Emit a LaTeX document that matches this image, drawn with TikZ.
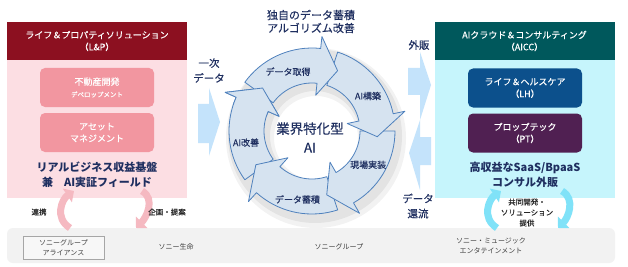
\documentclass[tikz,border=0pt]{standalone}
\usepackage{fontspec}
\setmainfont{Noto Sans CJK JP}
\newfontfamily\medfont{Noto Sans CJK JP}[FakeBold=0.35]
\usetikzlibrary{arrows.meta}
\newcommand{\fsz}[2]{\fontsize{#1}{#2}\selectfont}
\definecolor{lpcrimson}{RGB}{140,16,32}
\definecolor{lpblush}{RGB}{252,222,227}
\definecolor{lprose}{RGB}{242,150,160}
\definecolor{lparrow}{RGB}{245,185,193}
\definecolor{aiteal}{RGB}{0,88,92}
\definecolor{aiice}{RGB}{198,245,252}
\definecolor{lhblue}{RGB}{12,80,140}
\definecolor{ptplum}{RGB}{80,32,82}
\definecolor{aiarrow}{RGB}{128,226,248}
\definecolor{flowblue}{RGB}{196,227,251}
\definecolor{ringfill}{RGB}{214,227,240}
\definecolor{ringedge}{RGB}{79,129,189}
\definecolor{navytext}{RGB}{31,47,96}
\definecolor{bandgray}{RGB}{242,242,242}

\begin{document}
\begin{tikzpicture}[x=1pt,y=-1pt,
 panelhead/.style={fill=#1,text=white,align=center,minimum width=180,minimum height=38,inner sep=0,font=\medfont\fsz{9}{12}},
 panelbody/.style={fill=#1,minimum width=180,minimum height=176,inner sep=0},
 unitbox/.style={fill=#1,text=white,rounded corners=5pt,align=center,minimum width=114,minimum height=39,inner sep=0,font=\medfont\fsz{9}{12}},
 notetxt/.style={text=navytext,align=center,font=\bfseries\fsz{11}{15}},
 flowlbl/.style={text=navytext,align=center,font=\medfont\fsz{10.5}{15}},
 ringseg/.style={fill=ringfill,draw=ringedge,line width=0.8pt,line join=round},
 ringlbl/.style={text=navytext,font=\medfont\fsz{9}{10}},
 sublbl/.style={text=black!85,align=center,font=\medfont\fsz{7.5}{10.5}},
 bandlbl/.style={text=black!75,align=center,font=\fsz{7}{10}},
 blockarr/.style={fill=flowblue},
 pinkarr/.style={draw=lparrow,line width=7pt,-{Triangle[width=16pt,length=8pt]}},
 cyanarr/.style={draw=aiarrow,line width=7pt,-{Triangle[width=16pt,length=8pt]}}]
\useasboundingbox (0,0) rectangle (628,267);
\fill[white] (0,0) rectangle (628,267);

% L&P panel
\node[panelbody=lpblush] (lpbody) at (97,110) {};
\node[panelhead=lpcrimson] (lphead) at (97,41) {ライフ＆プロパティソリューション\\（L\&P）};
\node[unitbox=lprose] (devel) at (97,87.5) {不動産開発\\{\fsz{6.5}{8}デベロップメント}};
\node[unitbox=lprose] (asset) at (97,132.5) {アセット\\マネジメント};
\node[notetxt] (lpnote) at (97,175) {リアルビジネス収益基盤\\兼　AI実証フィールド};

% AICC panel
\node[panelbody=aiice] (aibody) at (524.5,110) {};
\node[panelhead=aiteal] (aihead) at (524.5,41) {AIクラウド＆コンサルティング\\（AICC）};
\node[unitbox=lhblue] (lhcare) at (525,88) {ライフ＆ヘルスケア\\（LH）};
\node[unitbox=ptplum] (ptech) at (525,133) {プロップテック\\（PT）};
\node[notetxt] (ainote) at (525,175) {高収益なSaaS/BpaaS\\コンサル外販};

% group band
\node[fill=bandgray,rounded corners=6pt,minimum width=608,minimum height=35,inner sep=0] (band) at (311,245.5) {};
\node[bandlbl,draw=black!35,fill=black!3,minimum width=81,minimum height=23,inner sep=0] (alliance) at (63.5,247.5) {ソニーグループ\\アライアンス};
\node[bandlbl] (life) at (176,247) {ソニー生命};
\node[bandlbl] (group) at (339,247) {ソニーグループ};
\node[bandlbl] (music) at (491,245.5) {ソニー・ミュージック\\エンタテインメント};

% links between panels and band
\coordinate (coopA) at (70,228); \coordinate (coopB) at (74,191);
\coordinate (planA) at (142,191); \coordinate (planB) at (136,228);
\coordinate (codevA) at (497,228); \coordinate (codevB) at (501,191);
\coordinate (solA) at (562,191); \coordinate (solB) at (558,228);
\draw[pinkarr] (coopA) .. controls +(-16,-10) and +(-12,8) .. (coopB);
\draw[pinkarr] (planA) .. controls +(14,8) and +(10,-10) .. (planB);
\draw[cyanarr] (codevA) .. controls +(-16,-10) and +(-12,8) .. (codevB);
\draw[cyanarr] (solA) .. controls +(14,8) and +(10,-10) .. (solB);
\node[sublbl] (coop) at (39,212) {連携};
\node[sublbl] (plan) at (167,212) {企画・提案};
\node[sublbl] (codev) at (527,212.5) {共同開発・\\ソリューション\\提供};

% data flows
\fill[blockarr] (198,104) -- (209,104) -- (209,88) -- (220,122) -- (209,156) -- (209,143) -- (198,143) -- cycle;
\fill[blockarr] (408,68) -- (420,68) -- (420,52) -- (431,85) -- (420,120) -- (420,95) -- (408,95) -- cycle;
\fill[blockarr] (431,137) -- (420,137) -- (420,120) -- (409,153) -- (420,190) -- (420,165) -- (431,165) -- cycle;
\node[flowlbl] (primary) at (209,70.5) {一次\\データ};
\node[flowlbl] (sales) at (419,45) {外販};
\node[flowlbl] (feedback) at (418,206) {データ\\還流};

% AI cycle
\node[flowlbl,font=\medfont\fsz{11}{13}] (cyctitle) at (311,21.5) {独自のデータ蓄積\\アルゴリズム改善};
\begin{scope}[shift={(312,131)}]
\fill[black,opacity=.05,even odd rule] (4,7) circle[radius=90] circle[radius=42];
\fill[black,opacity=.06,even odd rule] (3,5) circle[radius=87] circle[radius=45];
\foreach \s in {144,72,0,-72,-144}{
 \pgfmathsetmacro{\b}{\s+60}\pgfmathsetmacro{\t}{\s+77}
 \filldraw[ringseg] plot[domain=\s:\b,samples=18] ({83*cos(\x)},{83*sin(\x)}) -- (\b:95) -- (\t:65.5) -- (\b:36) -- plot[domain=\b:\s,samples=18] ({48*cos(\x)},{48*sin(\x)}) -- cycle;
}
\begin{scope}
\clip (0,0) -- (198:120) -- (213:130) -- (230:120) -- cycle;
\filldraw[ringseg] plot[domain=144:204,samples=18] ({83*cos(\x)},{83*sin(\x)}) -- (204:95) -- (221:65.5) -- (204:36) -- plot[domain=204:144,samples=18] ({48*cos(\x)},{48*sin(\x)}) -- cycle;
\end{scope}
\node[ringlbl] (getdata) at (-112:64) {データ取得};
\node[ringlbl] (buildai) at (-32:66) {AI構築};
\node[ringlbl] (deploy) at (31:65.5) {現場実装};
\node[ringlbl] (storedata) at (102:70) {データ蓄積};
\node[ringlbl] (improve) at (170:67) {AI改善};
\node[text=navytext,align=center,font=\medfont\fsz{13.5}{19}] (core) at (-2,6.5) {業界特化型\\AI};
\end{scope}
\end{tikzpicture}
\end{document}
